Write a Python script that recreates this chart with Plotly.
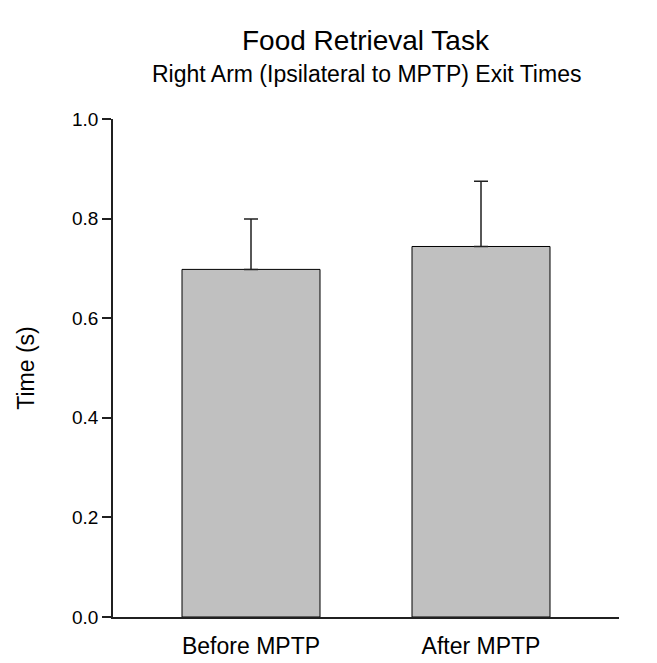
import plotly.graph_objects as go

categories = ["Before MPTP", "After MPTP"]
means = [0.698, 0.744]
errors_plus = [0.101, 0.131]
y_ticks = [0.0, 0.2, 0.4, 0.6, 0.8, 1.0]
y_tick_labels = ["0.0", "0.2", "0.4", "0.6", "0.8", "1.0"]

FONT = "Liberation Sans, Arial, sans-serif"

fig = go.Figure()
fig.add_trace(go.Bar(
    x=categories,
    y=means,
    width=0.6,
    marker=dict(color="#c0c0c0", line=dict(color="#000000", width=1)),
    error_y=dict(type="data", array=errors_plus, arrayminus=[0, 0], symmetric=False,
                 color="#202020", thickness=1.5, width=7),
))

fig.update_layout(
    width=657, height=663,
    margin=dict(l=105, r=46, t=111, b=49),
    paper_bgcolor="white", plot_bgcolor="white",
    showlegend=False,
    font=dict(family=FONT, color="black", size=18),
    xaxis=dict(range=[-0.6, 1.6], showline=True, linecolor="#202020", linewidth=1.5,
               ticks="", showgrid=False, zeroline=False, ticklabelstandoff=8,
               tickfont=dict(size=23, family=FONT)),
    yaxis=dict(range=[0, 1], tickvals=y_ticks, ticktext=y_tick_labels,
               showline=True, linecolor="#202020", linewidth=1.5,
               ticks="outside", ticklen=9, tickwidth=1.5, tickcolor="#202020",
               showgrid=False, zeroline=False,
               title=dict(text="Time (s)", font=dict(size=23, family=FONT), standoff=31),
               tickfont=dict(size=19, family=FONT)),
)
fig.add_annotation(text="Food Retrieval Task", xref="paper", yref="paper", x=0.5, y=1.0,
                   yanchor="middle", yshift=79, showarrow=False, font=dict(size=28, family=FONT))
fig.add_annotation(text="Right Arm (Ipsilateral to MPTP) Exit Times", xref="paper", yref="paper",
                   x=0.5, y=1.0, yanchor="middle", yshift=45, showarrow=False,
                   font=dict(size=23, family=FONT))

fig.write_html("out.html")
